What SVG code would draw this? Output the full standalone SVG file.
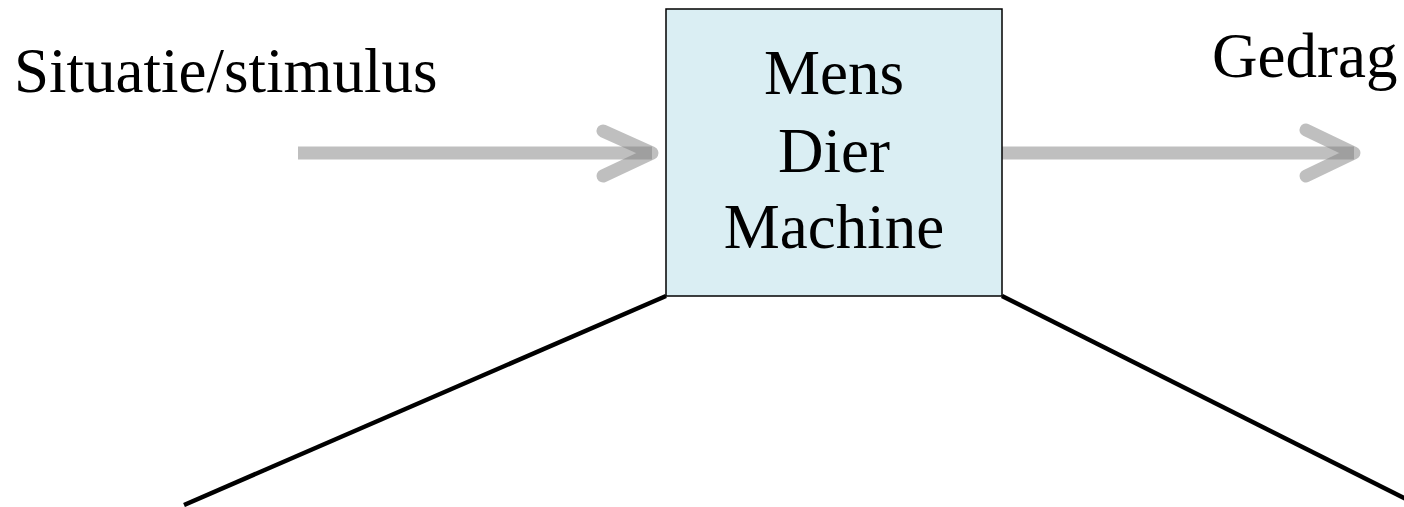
<svg xmlns="http://www.w3.org/2000/svg" width="1404" height="507" viewBox="0 0 1404 507">
<style>
.t{font-family:"Liberation Serif","Times New Roman",serif;font-size:63px;fill:#000}
.shaft{stroke:#808080;stroke-opacity:0.5;stroke-width:13;fill:none}
.head{stroke:#808080;stroke-opacity:0.5;stroke-width:13;fill:none;stroke-linecap:round;stroke-linejoin:round}
.ln{stroke:#000;stroke-width:4.5;fill:none}
</style>
<rect width="1404" height="507" fill="#fff"/>
<g id="connectors">
<line class="ln" x1="666" y1="296" x2="184" y2="505"/>
<line class="ln" x1="1002" y1="296" x2="1410" y2="501"/>
<line class="shaft" x1="298" y1="153" x2="652" y2="153"/>
<polyline class="head" points="603,131 652,153 603,176"/>
<line class="shaft" x1="1002" y1="153" x2="1354" y2="153"/>
<polyline class="head" points="1306,130 1354,153 1306,176"/>
</g>
<g id="node-system">
<rect x="666" y="9" width="336" height="287" fill="#DAEEF3" stroke="#000" stroke-width="1.5"/>
<text class="t" x="834" y="94" text-anchor="middle">Mens</text>
<text class="t" x="834" y="172" text-anchor="middle">Dier</text>
<text class="t" x="834" y="248" text-anchor="middle">Machine</text>
</g>
<g id="label-input">
<text class="t" x="14" y="92">Situatie/stimulus</text>
</g>
<g id="label-output">
<text class="t" x="1212" y="77" font-size="62">Gedrag</text>
</g>
</svg>
